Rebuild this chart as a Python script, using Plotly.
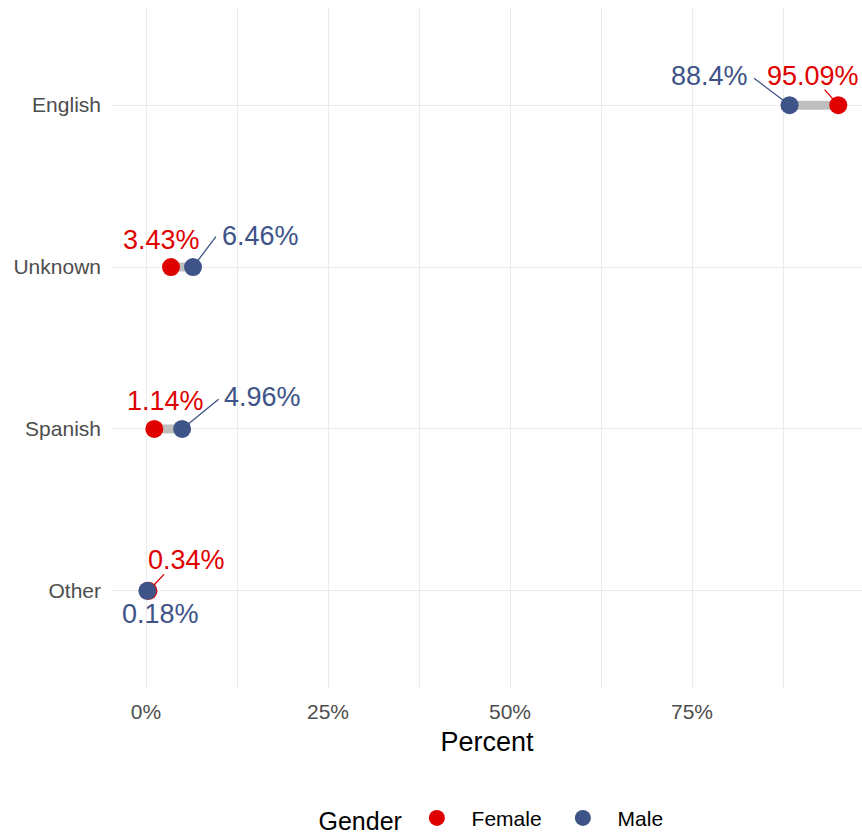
import plotly.graph_objects as go

# ---- data ----
languages = ["English", "Unknown", "Spanish", "Other"]
female_pct = [95.09, 3.43, 1.14, 0.34]
male_pct = [88.4, 6.46, 4.96, 0.18]
female_labels = ["95.09%", "3.43%", "1.14%", "0.34%"]
male_labels = ["88.4%", "6.46%", "4.96%", "0.18%"]
x_tick_vals = [0, 25, 50, 75]
x_tick_text = ["0%", "25%", "50%", "75%"]
x_minor_vals = [12.5, 37.5, 62.5, 87.5]

RED = "#E00000"
BLUE = "#3E5488"
FONT = "Liberation Sans, Arial, sans-serif"

fig = go.Figure()

# segments between female and male values
seg_x, seg_y = [], []
for lang, f, m in zip(languages, female_pct, male_pct):
    seg_x += [f, m, None]
    seg_y += [lang, lang, None]
fig.add_trace(go.Scatter(x=seg_x, y=seg_y, mode="lines",
                         line=dict(color="#BEBEBE", width=9),
                         showlegend=False, hoverinfo="skip"))

fig.add_trace(go.Scatter(x=female_pct, y=languages, mode="markers",
                         name="\u2002\u2009Female",
                         marker=dict(color=RED, size=18)))
fig.add_trace(go.Scatter(x=male_pct, y=languages, mode="markers",
                         name="\u2002\u2009Male",
                         marker=dict(color=BLUE, size=18)))

# label placement (screen pixel offsets, negative dy = up; styling, repel-like)
# text offset (dx, dy) and optional leader-line start offset (lx, ly)
female_place = [(-25, -29, (-15, -17)), (-9, -27, None), (11, -28, None), (38, -31, (17, -18))]
male_place = [(-80, -29, (-37, -28)), (67, -31, (24, -32)), (80, -32, (38, -31)), (13, 23, None)]

def add_labels(vals, labels, places, color):
    for lang, v, lab, (dx, dy, lead) in zip(languages, vals, labels, places):
        if lead is not None:
            fig.add_annotation(x=v, y=lang, xref="x", yref="y", text="",
                               showarrow=True, ax=lead[0], ay=lead[1], arrowhead=0,
                               arrowwidth=1.3, arrowcolor=color, standoff=8)
        fig.add_annotation(x=v, y=lang, xref="x", yref="y", text=lab,
                           showarrow=False, xshift=dx, yshift=-dy,
                           font=dict(family=FONT, size=27, color=color))

add_labels(female_pct, female_labels, female_place, RED)
add_labels(male_pct, male_labels, male_place, BLUE)

fig.update_layout(
    width=862, height=835,
    margin=dict(l=112, r=0, t=8, b=147, autoexpand=False),
    paper_bgcolor="white", plot_bgcolor="white",
    font=dict(family=FONT, color="#4D4D4D"),
    showlegend=True,
    legend=dict(orientation="h", x=0.2727, xanchor="left", y=-0.193, yanchor="middle",
                title=dict(text="Gender\u00a0", side="left",
                           font=dict(family=FONT, size=25, color="black")),
                font=dict(family=FONT, size=21, color="black"),
                entrywidth=101),
)
fig.update_xaxes(
    range=[-4.67, 98.35], tickvals=x_tick_vals, ticktext=x_tick_text,
    showgrid=True, gridcolor="#EBEBEB", gridwidth=1.2, zeroline=False,
    minor=dict(tickvals=x_minor_vals, showgrid=True,
               gridcolor="#EBEBEB", gridwidth=0.8),
    tickfont=dict(family=FONT, size=21, color="#4D4D4D"),
    ticklabelstandoff=9, showline=False, automargin=False,
    title=dict(text="Percent", standoff=10,
               font=dict(family=FONT, size=27, color="black")),
)
fig.update_yaxes(
    type="category", categoryorder="array", categoryarray=languages[::-1],
    range=[-0.6, 3.6], showgrid=True, gridcolor="#EBEBEB", gridwidth=1.2,
    zeroline=False, tickfont=dict(family=FONT, size=21, color="#4D4D4D"),
    ticklabelstandoff=10, automargin=False, showline=False,
)

fig.write_html("out.html", config={"displayModeBar": False},
               post_script="document.body.style.margin='0';")
